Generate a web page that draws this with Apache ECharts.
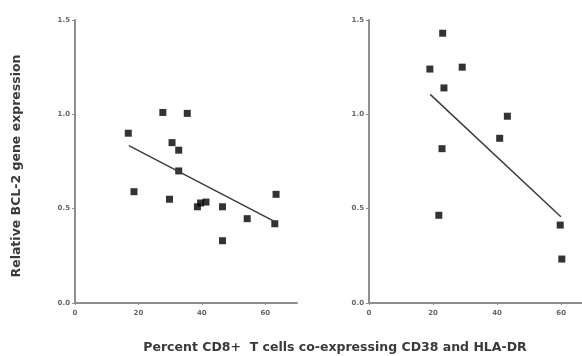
<!DOCTYPE html>
<html>
<head>
<meta charset="utf-8">
<script src="https://cdn.jsdelivr.net/npm/echarts@6/dist/echarts.min.js"></script>
<style>
  html, body { margin: 0; padding: 0; background: #fff; }
  #chart { width: 582px; height: 356px; }
</style>
</head>
<body>
<div id="chart"></div>
<script>
// left panel points [percent CD8+, relative BCL-2]
const leftPoints = [
  [16.8, 0.90], [18.6, 0.59], [27.7, 1.01], [35.4, 1.005], [30.6, 0.85],
  [32.7, 0.81], [32.7, 0.70], [29.8, 0.55], [38.6, 0.51], [39.6, 0.53],
  [41.3, 0.535], [46.5, 0.51], [46.5, 0.33], [54.3, 0.447], [63.0, 0.42],
  [63.4, 0.576]
];
const leftFit = [[17, 0.834], [63, 0.431]];

// right panel points
const rightPoints = [
  [23.0, 1.43], [19.0, 1.24], [29.1, 1.25], [23.4, 1.14], [43.2, 0.99],
  [40.8, 0.873], [22.8, 0.818], [21.8, 0.465], [59.7, 0.413], [60.2, 0.233]
];
const rightFit = [[19.1, 1.106], [59.9, 0.457]];

const xTicks = [0, 20, 40, 60];
const yTicks = [0, 0.5, 1.0, 1.5];

const axisColor = '#8f8f8f';
const labelColor = '#666';
const titleFont = 'DejaVu Sans';

function xAxis(idx, max) {
  return {
    type: 'value', gridIndex: idx, min: 0, max: max, interval: 20,
    axisLine: { lineStyle: { color: axisColor, width: 2 } },
    axisTick: { show: true, length: 2, lineStyle: { color: axisColor } },
    axisLabel: {
      color: labelColor, fontSize: 7, margin: 7, fontFamily: titleFont, fontWeight: 'bold',
      showMaxLabel: false,
      formatter: v => xTicks.includes(v) ? String(v) : ''
    },
    splitLine: { show: false }
  };
}

function yAxis(idx) {
  return {
    type: 'value', gridIndex: idx, min: 0, max: 1.5, interval: 0.5,
    axisLine: { show: true, lineStyle: { color: axisColor, width: 2 } },
    axisTick: { show: true, length: 3, lineStyle: { color: axisColor } },
    axisLabel: {
      color: labelColor, fontSize: 7, margin: 5, fontFamily: titleFont, fontWeight: 'bold',
      formatter: v => yTicks.includes(v) ? v.toFixed(1) : ''
    },
    splitLine: { show: false }
  };
}

function scatter(idx, pts) {
  return {
    type: 'scatter', xAxisIndex: idx, yAxisIndex: idx, data: pts,
    symbol: 'rect', symbolSize: 7,
    itemStyle: { color: '#000' }, silent: true
  };
}

function fit(idx, pts) {
  return {
    type: 'line', xAxisIndex: idx, yAxisIndex: idx, data: pts,
    symbol: 'none', lineStyle: { color: '#3c3c3c', width: 1.5 }, silent: true
  };
}

const chart = echarts.init(document.getElementById('chart'), null, { renderer: 'canvas' });
chart.setOption({
  animation: false,
  backgroundColor: '#fff',
  grid: [
    { left: 75, top: 20, width: 222, bottom: 53 },
    { left: 369, top: 20, right: 0, bottom: 53 }
  ],
  xAxis: [xAxis(0, 70), xAxis(1, 66.5)],
  yAxis: [yAxis(0), yAxis(1)],
  series: [
    scatter(0, leftPoints), fit(0, leftFit),
    scatter(1, rightPoints), fit(1, rightFit)
  ],
  graphic: [{
    type: 'text', x: 335, y: 348,
    style: {
      text: 'Percent CD8+  T cells co-expressing CD38 and HLA-DR',
      fill: '#3a3a3a', font: 'bold 12.5px "DejaVu Sans"',
      align: 'center', verticalAlign: 'middle'
    }
  }, {
    type: 'text', x: 17, y: 166, rotation: Math.PI / 2,
    style: {
      text: 'Relative BCL-2 gene expression',
      fill: '#3a3a3a', font: 'bold 12.5px "DejaVu Sans"',
      align: 'center', verticalAlign: 'middle'
    }
  }]
});
</script>
</body>
</html>
